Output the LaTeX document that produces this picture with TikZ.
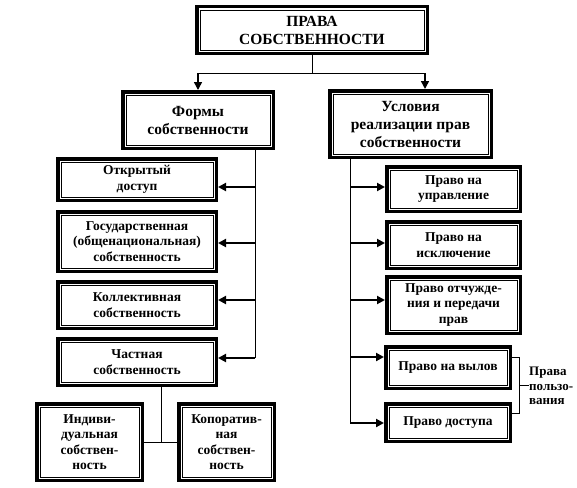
\documentclass[tikz,border=0pt]{standalone}
\usepackage{fontspec}
\setmainfont{Liberation Serif}
\usetikzlibrary{arrows.meta}
\tikzset{
  box/.style={draw, line width=3.5pt, inner sep=0pt, align=center,
    font=\fontsize{13.5}{15.5}\selectfont\bfseries,
    path picture={\draw[line width=0.7pt]
      ([shift={(3.4pt,-3.4pt)}]path picture bounding box.north west) rectangle
      ([shift={(-3.4pt,3.4pt)}]path picture bounding box.south east);}},
  bigbox/.style={box, font=\fontsize{15.5}{18}\selectfont\bfseries},
  spine/.style={line width=1pt},
  arr/.style={line width=2pt, -{Triangle[length=8pt,width=8pt]}},
  toparr/.style={line width=1.5pt, -{Triangle[length=8pt,width=8pt]}},
  side/.style={font=\fontsize{13}{14.5}\selectfont\bfseries, align=left, inner sep=0pt, anchor=west}
}
\begin{document}
\begin{tikzpicture}[x=1pt,y=-1pt]
\path[use as bounding box, fill=white] (0,0) rectangle (577,487);
% top
\node[bigbox, minimum width=230.5pt, minimum height=46.5pt] (T) at (312,30) {ПРАВА\\СОБСТВЕННОСТИ};
\node[bigbox, minimum width=150.5pt, minimum height=56.5pt] (F) at (198,120) {Формы\\собственности};
\node[bigbox, minimum width=161.5pt, minimum height=66.5pt] (U) at (410.5,124) {Условия\\реализации прав\\собственности};
% left column
\node[box, minimum width=158.5pt, minimum height=41.5pt] (L1) at (137,179.5) {Открытый\\доступ};
\node[box, minimum width=158.5pt, minimum height=59.5pt] (L2) at (137,241.5) {Государственная\\(общенациональная)\\собственность};
\node[box, minimum width=158.5pt, minimum height=46.5pt] (L3) at (137,305) {Коллективная\\собственность};
\node[box, minimum width=158.5pt, minimum height=46.5pt] (L4) at (137,362) {Частная\\собственность};
\node[box, minimum width=105.5pt, minimum height=76.5pt] (B1) at (89.5,442) {Индиви-\\дуальная\\собствен-\\ность};
\node[box, minimum width=95.5pt, minimum height=76.5pt] (B2) at (226.5,442) {Копоратив-\\ная\\собствен-\\ность};
% right column
\node[box, minimum width=133.5pt, minimum height=44.5pt] (R1) at (453.5,189) {Право на\\управление};
\node[box, minimum width=133.5pt, minimum height=46.5pt] (R2) at (453.5,245) {Право на\\исключение};
\node[box, minimum width=133.5pt, minimum height=56.5pt] (R3) at (453.5,305) {Право отчужде-\\ния и передачи\\прав};
\node[box, minimum width=124.5pt, minimum height=41.5pt] (R4) at (448,367.5) {Право на вылов};
\node[box, minimum width=124.5pt, minimum height=37.5pt] (R5) at (448,422.5) {Право доступа};
\node[side] (P) at (529,386) {Права\\пользо-\\вания};
% top connectors
\coordinate (tj) at (312,73);
\coordinate (tl) at (198,73);
\coordinate (tr) at (425,73);
\draw[spine] (T.south) -- (tj);
\draw[spine] (tl) -- (tr);
\draw[toparr] (tl) -- (F.north);
\draw[toparr] (tr) -- (tr |- U.north);
% left spine
\coordinate (ls0) at (255,150);
\coordinate (ls1) at (255,187);
\coordinate (ls2) at (255,243);
\coordinate (ls3) at (255,300);
\coordinate (ls4) at (255,358);
\draw[spine] (ls0) -- (ls4);
\draw[arr] (ls1) -- (ls1 -| L1.east);
\draw[arr] (ls2) -- (ls2 -| L2.east);
\draw[arr] (ls3) -- (ls3 -| L3.east);
\draw[arr] (ls4) -- (ls4 -| L4.east);
% bottom split
\coordinate (bj) at (161,442);
\draw[spine] (bj |- L4.south) -- (bj);
\draw[spine] (B1.east) -- (B2.west);
% right spine
\coordinate (rs0) at (350,159);
\coordinate (rs1) at (350,187);
\coordinate (rs2) at (350,243);
\coordinate (rs3) at (350,300);
\coordinate (rs4) at (350,357);
\coordinate (rs5) at (350,423);
\draw[spine] (rs0) -- (rs5);
\draw[arr] (rs1) -- (rs1 -| R1.west);
\draw[arr] (rs2) -- (rs2 -| R2.west);
\draw[arr] (rs3) -- (rs3 -| R3.west);
\draw[arr] (rs4) -- (rs4 -| R4.west);
\draw[arr] (rs5) -- (rs5 -| R5.west);
% bracket
\coordinate (bt) at (519,357);
\coordinate (bb) at (519,413);
\coordinate (bm) at (519,385);
\draw[spine] (bt -| R4.east) -- (bt) -- (bb) -- (bb -| R5.east);
\draw[spine] (bm) -- (P.west |- bm);
\end{tikzpicture}
\end{document}
